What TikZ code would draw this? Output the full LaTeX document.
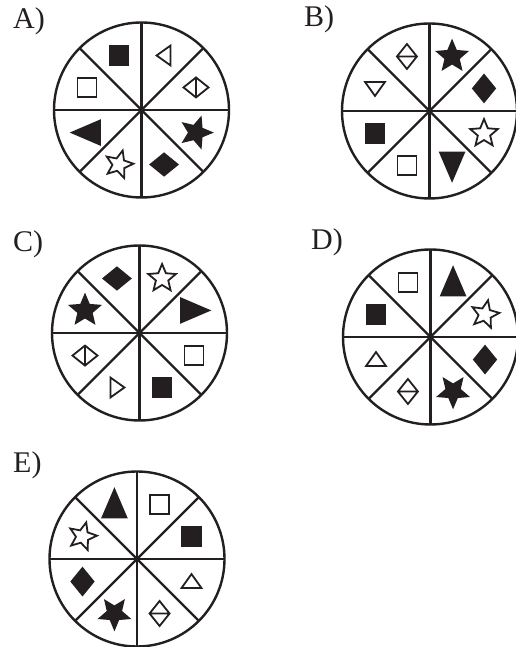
\documentclass[tikz,border=0pt]{standalone}
\usepackage{fontspec}
\setmainfont{Liberation Serif}
\definecolor{ink}{HTML}{231F20}
\tikzset{
  rim/.style={draw=ink, line width=2.4pt},
  spoke/.style={draw=ink, line width=2.3pt},
  shp/.style={draw=ink, line width=1.8pt, line join=miter},
  full/.style={shp, fill=ink},
  tag/.style={font=\fontsize{30}{36}\selectfont, anchor=base west, inner sep=0pt, text=ink}
}
\def\rad{87.5}
\def\pos{59}

%% glyphs, drawn round the origin
\def\shpSqF{\filldraw[full] (-9.5,-9.5) rectangle (9.5,9.5);}
\def\shpSqO{\draw[shp] (-9.5,-9.5) rectangle (9.5,9.5);}
\def\shpTriF{\filldraw[full] (0,15) -- (-12,-13) -- (12,-13) -- cycle;}
\def\shpTriO{\draw[shp] (0,7.5) -- (-10,-6.5) -- (10,-6.5) -- cycle;}
\def\shpDmF{\filldraw[full] (-13.5,0) -- (0,11) -- (13.5,0) -- (0,-11) -- cycle;}
\def\shpDmO{\draw[shp] (-12.5,0) -- (0,10) -- (12.5,0) -- (0,-10) -- cycle (0,10) -- (0,-10);}
\def\shpStarF{\filldraw[full] (90:15.5) \foreach \k in {0,...,4} { -- ({126+72*\k}:7) -- ({162+72*\k}:15.5) } -- cycle;}
\def\shpStarO{\draw[shp] (90:14.5) \foreach \k in {0,...,4} { -- ({126+72*\k}:6.5) -- ({162+72*\k}:14.5) } -- cycle;}

% one wheel: centre, then angle/glyph/rotation list
\newcommand\wheel[2]{
  \begin{scope}[shift={#1}]
    \draw[rim] (0,0) circle[radius=\rad pt];
    \foreach \t in {0,45,90,135} { \draw[spoke] (\t:\rad) -- ({\t+180}:\rad); }
    \foreach \a/\p/\r in {#2} {
      \begin{scope}[shift={(\a:\pos)}, rotate=\r] \csname shp\p\endcsname \end{scope}
    }
  \end{scope}
}

\begin{document}
\begin{tikzpicture}[x=1pt, y=1pt]
\useasboundingbox (0,0) rectangle (515,647);

%% A
\node[tag] (labA) at (13,618.7) {A)};
\wheel{(141.5,537)}{112.5/SqF/0, 67.5/TriO/90, 22.5/DmO/0, -22.5/StarF/-18,
  -67.5/DmF/0, -112.5/StarO/-15, -157.5/TriF/90, 157.5/SqO/0}

%% B
\node[tag] (labB) at (304,620.3) {B)};
\wheel{(429.5,536)}{112.5/DmO/90, 67.5/StarF/0, 22.5/DmF/90, -22.5/StarO/0,
  -67.5/TriF/180, -112.5/SqO/0, -157.5/SqF/0, 157.5/TriO/180}

%% C
\node[tag] (labC) at (13,395.3) {C)};
\wheel{(139.5,314)}{112.5/DmF/0, 67.5/StarO/0, 22.5/TriF/-90, -22.5/SqO/0,
  -67.5/SqF/0, -112.5/TriO/-90, -157.5/DmO/0, 157.5/StarF/0}

%% D
\node[tag] (labD) at (311,397) {D)};
\wheel{(430.5,310)}{112.5/SqO/0, 67.5/TriF/0, 22.5/StarO/-12, -22.5/DmF/90,
  -67.5/StarF/36, -112.5/DmO/90, -157.5/TriO/0, 157.5/SqF/0}

%% E
\node[tag] (labE) at (13,174.3) {E)};
\wheel{(137,88)}{112.5/TriF/0, 67.5/SqO/0, 22.5/SqF/0, -22.5/TriO/0,
  -67.5/DmO/90, -112.5/StarF/36, -157.5/DmF/90, 157.5/StarO/-15}

\end{tikzpicture}
\end{document}
